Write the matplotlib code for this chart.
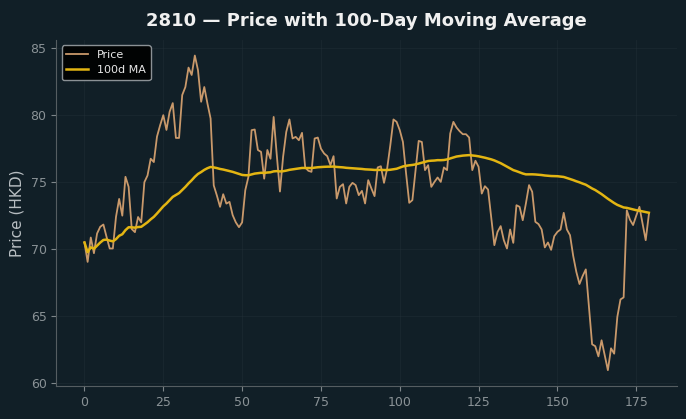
import matplotlib
matplotlib.use("Agg")
import matplotlib.pyplot as plt
import numpy as np
import pandas as pd

# daily closing prices (day 0..179)
price = [
    70.5, 69.05, 70.87, 69.7, 71.17, 71.67, 71.84, 70.92, 70.05, 70.05,
    72.41, 73.75, 72.5, 75.4, 74.65, 71.5, 71.27, 72.4, 72.0, 75.0,
    75.5, 76.75, 76.5, 78.4, 79.25, 80.0, 78.9, 80.25, 80.9, 78.3,
    78.3, 81.5, 82.1, 83.55, 83.0, 84.45, 83.36, 81.0, 82.1, 80.87,
    79.75, 74.76, 74.0, 73.16, 74.1, 73.4, 73.53, 72.54, 72.0, 71.64,
    72.0, 74.4, 75.4, 78.88, 78.93, 77.4, 77.26, 75.26, 77.4, 76.75,
    79.87, 77.0, 74.3, 76.9, 78.75, 79.68, 78.26, 78.38, 78.13, 78.68,
    76.1, 75.85, 75.77, 78.26, 78.33, 77.5, 77.14, 76.94, 76.27, 76.94,
    73.78, 74.65, 74.85, 73.41, 74.65, 74.95, 74.78, 74.03, 74.35, 73.41,
    75.15, 74.53, 73.96, 76.1, 76.19, 74.95, 76.02, 77.76, 79.68, 79.5,
    78.88, 78.0, 75.65, 73.46, 73.66, 75.9, 78.08, 78.0, 75.9, 76.27,
    74.65, 75.02, 75.35, 75.02, 76.1, 75.9, 78.63, 79.5, 79.08, 78.8,
    78.58, 78.58, 78.33, 75.9, 76.6, 76.14, 74.15, 74.7, 74.45, 72.41,
    70.3, 71.29, 71.72, 70.67, 70.05, 71.47, 70.47, 73.28, 73.16, 72.16,
    73.41, 74.78, 74.28, 72.04, 71.87, 71.47, 70.13, 70.5, 69.95, 70.97,
    71.29, 71.47, 72.71, 71.47, 71.04, 69.5, 68.3, 67.4, 68.0, 68.49,
    65.7, 62.9, 62.76, 62.0, 63.2, 62.1, 60.97, 62.6, 62.2, 64.95,
    66.25, 66.4, 72.9, 72.2, 71.8, 72.5, 73.16, 71.9, 70.67, 72.6,
]
days = np.arange(len(price))
ma_window = 100

BG = '#111f27'
PRICE_COLOR = '#c9996b'
MA_COLOR = '#e3b512'

s = pd.Series(price)
ma = s.rolling(ma_window, min_periods=1).mean()

fig, ax = plt.subplots(figsize=(6.86, 4.19), dpi=100)
fig.patch.set_facecolor(BG)
ax.set_facecolor(BG)

ax.plot(days, price, color=PRICE_COLOR, linewidth=1.3, label='Price')
ax.plot(days, ma, color=MA_COLOR, linewidth=1.8, label='100d MA')

ax.set_title('2810 — Price with 100-Day Moving Average', color='#f0f0f0',
             fontsize=13, fontweight='bold', pad=10)
ax.set_ylabel('Price (HKD)', color='#b8bec2', fontsize=11)

ax.set_xticks([0, 25, 50, 75, 100, 125, 150, 175])
ax.set_yticks([60, 65, 70, 75, 80, 85])
ax.tick_params(colors='#7d8589', labelcolor='#8a9296', labelsize=9)
for side in ['top', 'right']:
    ax.spines[side].set_visible(False)
for side in ['left', 'bottom']:
    ax.spines[side].set_color('#555d61')
ax.grid(True, color='#26323a', linewidth=0.6, alpha=0.45)

leg = ax.legend(loc='upper left', fontsize=8, facecolor='black',
                edgecolor='#9aa0a4', labelcolor='#e8e8e8', framealpha=0.9)

plt.subplots_adjust(left=0.082, right=0.987, top=0.905, bottom=0.079)
plt.savefig('out.png', dpi=100, facecolor=BG)
